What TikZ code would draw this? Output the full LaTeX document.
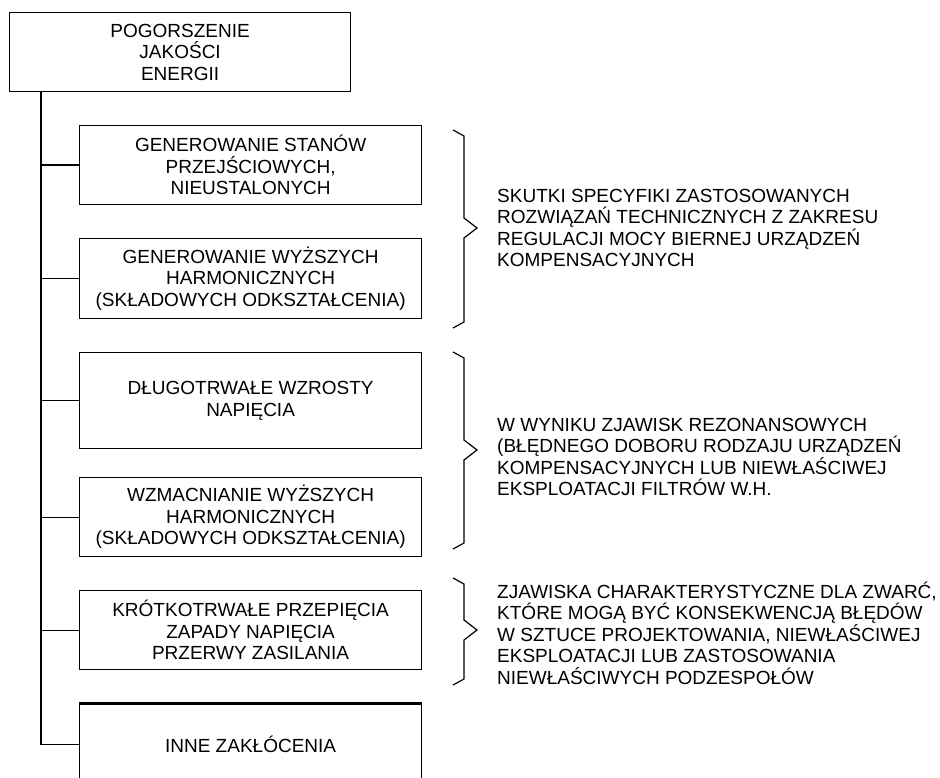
\documentclass[tikz,border=0pt]{standalone}
\usepackage{fontspec}
\setmainfont{Liberation Sans}
\usetikzlibrary{positioning}

\tikzset{
  box/.style={rectangle, draw, line width=1.2pt, anchor=north west, align=center, inner sep=0pt, minimum width=342pt},
  opis/.style={anchor=west, align=left, inner sep=0pt},
  klamra/.style={line width=1.2pt}
}

\begin{document}
\begin{tikzpicture}[x=1pt, y=-1pt, every node/.style={font=\fontsize{19}{21.5}\selectfont}]
  \useasboundingbox (0,0) rectangle (940,778);
  \clip (0,0) rectangle (940,778);
  \node[box, minimum width=341pt, minimum height=79pt] (pogorszenie) at (9,12) {POGORSZENIE\\JAKOŚCI\\ENERGII};
  \node[box, minimum height=79pt] (stany) at (79,125) {GENEROWANIE STANÓW\\PRZEJŚCIOWYCH,\\NIEUSTALONYCH};
  \node[box, minimum height=80pt] (harm) at (79,238) {GENEROWANIE WYŻSZYCH\\HARMONICZNYCH\\(SKŁADOWYCH ODKSZTAŁCENIA)};
  \node[box, minimum height=96pt] (wzrosty) at (79,352) {DŁUGOTRWAŁE WZROSTY\\NAPIĘCIA};
  \node[box, minimum height=79pt] (wzmac) at (79,477) {WZMACNIANIE WYŻSZYCH\\HARMONICZNYCH\\(SKŁADOWYCH ODKSZTAŁCENIA)};
  \node[box, minimum height=79pt] (krotkie) at (79,590) {KRÓTKOTRWAŁE PRZEPIĘCIA\\ZAPADY NAPIĘCIA\\PRZERWY ZASILANIA};
  \node[box, minimum height=82pt] (inne) at (79,703) {INNE ZAKŁÓCENIA};
  \draw[line width=3pt] (inne.north west) -- (inne.north east);

  \coordinate (pien) at (41,0);
  \draw[line width=1.2pt] (pien |- pogorszenie.south) -- (pien |- inne.west) -- (inne.west);
  \foreach \n in {stany, harm, wzrosty, wzmac, krotkie}
    \draw[line width=1.2pt] (pien |- \n.west) -- (\n.west);

  \foreach \g/\s/\d in {130/228/328, 352/450/549, 578/630/685}
    \draw[klamra] (453,\g) -- (464,\g+6) -- (464,\s-10) -- (477,\s) -- (464,\s+10) -- (464,\d-6) -- (453,\d);

  \node[opis] (skutki) at (497,228) {SKUTKI SPECYFIKI ZASTOSOWANYCH\\ROZWIĄZAŃ TECHNICZNYCH Z ZAKRESU\\REGULACJI MOCY BIERNEJ URZĄDZEŃ\\KOMPENSACYJNYCH};
  \node[opis] (rezonans) at (497,457) {W WYNIKU ZJAWISK REZONANSOWYCH\\(BŁĘDNEGO DOBORU RODZAJU URZĄDZEŃ\\KOMPENSACYJNYCH LUB NIEWŁAŚCIWEJ\\EKSPLOATACJI FILTRÓW W.H.};
  \node[opis] (zwarcia) at (497,633) {ZJAWISKA CHARAKTERYSTYCZNE DLA ZWARĆ,\\KTÓRE MOGĄ BYĆ KONSEKWENCJĄ BŁĘDÓW\\W SZTUCE PROJEKTOWANIA, NIEWŁAŚCIWEJ\\EKSPLOATACJI LUB ZASTOSOWANIA\\NIEWŁAŚCIWYCH PODZESPOŁÓW};
\end{tikzpicture}
\end{document}
